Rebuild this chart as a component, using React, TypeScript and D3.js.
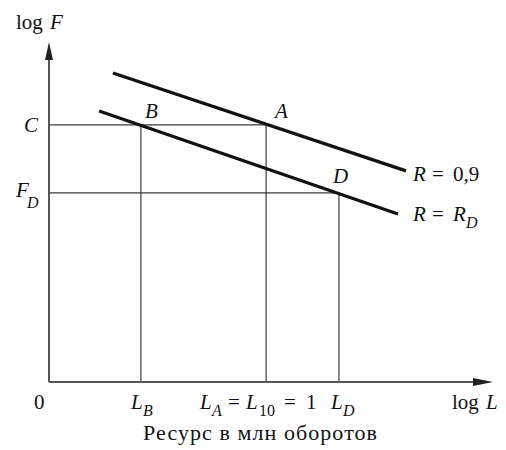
import React from "react";
import * as d3 from "d3";

const W = 506, H = 450;
// abstract units (log scales, no numeric ticks)
const xTicks = [
  { key: "LB", value: 20.7 },
  { key: "LA", value: 48.9 },
  { key: "LD", value: 65.3 },
];
const yTicks = [
  { key: "C", value: 75.6 },
  { key: "FD", value: 55.6 },
];
const lineR09 = [
  { x: 14.4, y: 90.9 },
  { x: 80.4, y: 62.1 },
];
const lineRD = [
  { x: 11.3, y: 79.7 },
  { x: 78.6, y: 49.4 },
];

export default function App() {
  const x = d3.scaleLinear().domain([0, 100]).range([49, 493]);
  const y = d3.scaleLinear().domain([0, 100]).range([382, 42]);
  const line = d3
    .line<{ x: number; y: number }>()
    .x((d) => x(d.x))
    .y((d) => y(d.y));
  const font = "Liberation Serif, Times New Roman, DejaVu Serif, serif";
  const x0 = x(0), y0 = y(0);
  const LB = xTicks[0].value, LA = xTicks[1].value, LD = xTicks[2].value;
  const C = yTicks[0].value, FD = yTicks[1].value;
  const gridColor = "#3a3a3a";
  const sub = 16;
  return (
    <svg width={W} height={H} style={{ position: "absolute", left: 0, top: 0, background: "#fff", fontFamily: font }}>
      <line x1={x0} x2={x(LA)} y1={y(C)} y2={y(C)} stroke={gridColor} strokeWidth={1.2} />
      <line x1={x0} x2={x(LD)} y1={y(FD)} y2={y(FD)} stroke={gridColor} strokeWidth={1.2} />
      <line x1={x(LB)} x2={x(LB)} y1={y0} y2={y(C)} stroke={gridColor} strokeWidth={1.2} />
      <line x1={x(LA)} x2={x(LA)} y1={y0} y2={y(C)} stroke={gridColor} strokeWidth={1.2} />
      <line x1={x(LD)} x2={x(LD)} y1={y0} y2={y(FD)} stroke={gridColor} strokeWidth={1.2} />
      <line x1={x0} x2={x(100) - 16} y1={y0} y2={y0} stroke="#555" strokeWidth={2} />
      <line x1={x0} x2={x0} y1={y0} y2={y(100) + 14} stroke="#555" strokeWidth={2} />
      <path d={`M${x(100)},${y0} L${x(100) - 20},${y0 - 4} L${x(100) - 20},${y0 + 4} Z`} fill="#222" />
      <path d={`M${x0},${y(100)} L${x0 - 4},${y(100) + 18} L${x0 + 4},${y(100) + 18} Z`} fill="#222" />
      <path d={line(lineR09) || ""} stroke="#111" strokeWidth={3.2} fill="none" />
      <path d={line(lineRD) || ""} stroke="#111" strokeWidth={3.2} fill="none" />
      <g fontSize={21} fill="#111" style={{ fontFamily: font }}>
        <text x={16} y={29}>log<tspan x={50} fontStyle="italic">F</tspan></text>
        <text x={24} y={132} fontStyle="italic">C</text>
        <text x={16} y={197} fontStyle="italic">F<tspan x={27} fontSize={sub} dy={11}>D</tspan></text>
        <text x={145} y={118} fontStyle="italic">B</text>
        <text x={275} y={118} fontStyle="italic">A</text>
        <text x={333} y={183} fontStyle="italic">D</text>
        <text x={413} y={181}>
          <tspan fontStyle="italic">R</tspan>
          <tspan x={432}>=</tspan>
          <tspan x={453}>0,9</tspan>
        </text>
        <text x={413} y={221}>
          <tspan fontStyle="italic">R</tspan>
          <tspan x={432}>=</tspan>
          <tspan x={453} fontStyle="italic">R</tspan>
          <tspan x={466} fontStyle="italic" fontSize={sub} dy={7}>D</tspan>
        </text>
        <text x={34} y={409}>0</text>
        <text x={131} y={409} fontStyle="italic">L<tspan x={143} fontSize={sub} dy={7}>B</tspan></text>
        <text x={200} y={409}>
          <tspan fontStyle="italic">L</tspan>
          <tspan x={212} fontStyle="italic" fontSize={sub} dy={7}>A</tspan>
          <tspan x={228} dy={-7}>=</tspan>
          <tspan x={246} fontStyle="italic">L</tspan>
          <tspan x={259} fontSize={sub} dy={7}>10</tspan>
          <tspan x={284} dy={-7}>=</tspan>
          <tspan x={306}>1</tspan>
        </text>
        <text x={331} y={409} fontStyle="italic">L<tspan x={343} fontSize={sub} dy={7}>D</tspan></text>
        <text x={452} y={409}>log<tspan x={486} fontStyle="italic">L</tspan></text>
        <text x={143} y={440} fontSize={22} textLength={234} lengthAdjust="spacing">Ресурс в млн оборотов</text>
      </g>
    </svg>
  );
}
